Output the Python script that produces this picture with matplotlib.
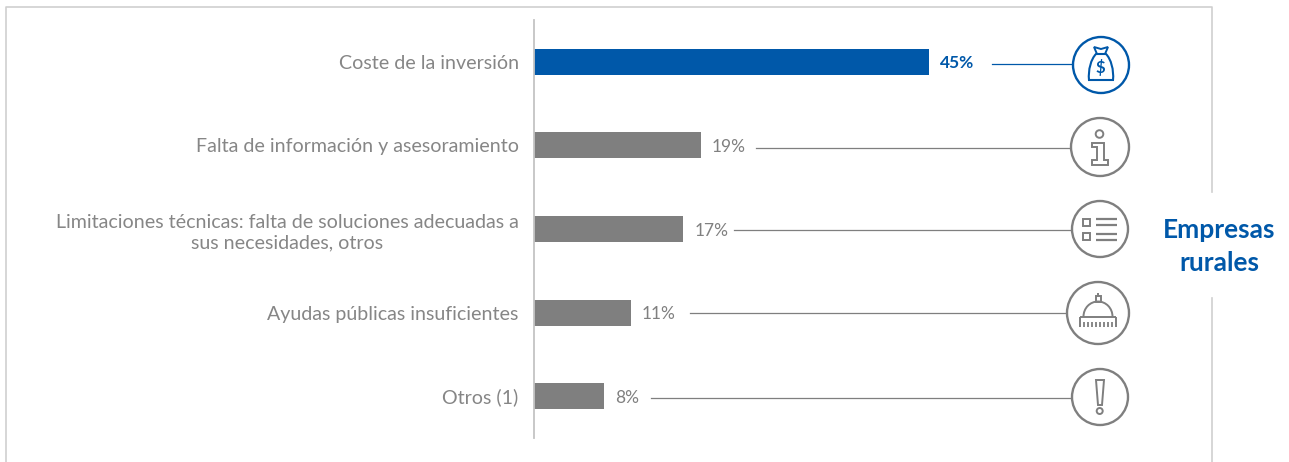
import numpy as np
import matplotlib.pyplot as plt
from matplotlib.patches import Circle, Polygon, Rectangle, Arc, PathPatch
from matplotlib.path import Path

W, H = 1289, 462
GREY = '#7f7f7f'
BLUE = '#0058a9'
BORDER = '#cfcfcf'

categories = ['Coste de la inversión',
              'Falta de información y asesoramiento',
              'Limitaciones técnicas: falta de soluciones adecuadas a\nsus necesidades, otros',
              'Ayudas públicas insuficientes',
              'Otros (1)']
values = [45, 19, 17, 11, 8]
bar_colors = [BLUE, GREY, GREY, GREY, GREY]
label_colors = [BLUE, '#808080', '#808080', '#808080', '#808080']
label_weights = ['bold', 'normal', 'normal', 'normal', 'normal']

# pixel helpers, for the frame and the icons
line_starts = [992, 756, 734, 690, 651]
line_ends = [1073, 1071, 1071, 1068, 1071]
line_ys = [64, 148, 230, 313, 398]
icon_x = [1101, 1100, 1100, 1098, 1100]
icon_y = [65, 147, 229, 313, 397]
icon_r = [28, 29, 28, 31, 28]

plt.rcParams['font.family'] = ['Lato', 'DejaVu Sans']

fig = plt.figure(figsize=(W / 100, H / 100), dpi=100, facecolor='white')

# overlay in pixel coordinates
ov = fig.add_axes([0, 0, 1, 1])
ov.set_xlim(0, W)
ov.set_ylim(H, 0)
ov.axis('off')

# frame
ov.plot([6, 6, 1212, 1212], [462, 7, 7, 192], color=BORDER, lw=1.2)
ov.plot([1212, 1212], [298, 462], color=BORDER, lw=1.2)

# bars
ax = fig.add_axes([534 / W, 1 - 438 / H, 395 / W, 418 / H])
ax.patch.set_alpha(0)
y = np.arange(len(values))
bars = ax.barh(y, values, height=0.31, color=bar_colors)
ax.set_xlim(0, 45)
ax.set_ylim(4.5, -0.5)
ax.set_xticks([])
ax.set_yticks(y)
ax.set_yticklabels(categories, fontsize=14.15, color='#868686', multialignment='center', linespacing=1.3)
ax.tick_params(axis='y', length=0, pad=11)
for s in ['top', 'right', 'bottom']:
    ax.spines[s].set_visible(False)
ax.spines['left'].set_color('#c4c4c4')
ax.spines['left'].set_linewidth(1.3)

for b, v, c, w in zip(bars, values, label_colors, label_weights):
    ax.annotate(str(v) + '%', (v, b.get_y() + b.get_height() / 2), xytext=(8, -1.2), textcoords='offset points',
                va='center', ha='left', fontsize=12.5, color=c, fontweight=w, annotation_clip=False)

# connector lines and circles
for i in range(5):
    c = BLUE if i == 0 else GREY
    ov.plot([line_starts[i], line_ends[i]], [line_ys[i], line_ys[i]], color=c, lw=0.9)
    ov.add_patch(Circle((icon_x[i], icon_y[i]), icon_r[i], fc='white', ec=c, lw=1.7, zorder=3))


def poly(cx, cy, pts, c, lw=1.4, fc='none'):
    pts = [(cx + p[0], cy + p[1]) for p in pts]
    ov.add_patch(Polygon(pts, closed=True, fc=fc, ec=c, lw=lw, zorder=4, joinstyle='miter'))


def seg(cx, cy, x0, y0, x1, y1, c, lw=1.4):
    ov.plot([cx + x0, cx + x1], [cy + y0, cy + y1], color=c, lw=lw, zorder=4, solid_capstyle='butt')


# money bag
cx, cy = icon_x[0], icon_y[0]
codes = [Path.MOVETO, Path.CURVE4, Path.CURVE4, Path.CURVE4, Path.LINETO, Path.CURVE4, Path.CURVE4, Path.CURVE4, Path.CLOSEPOLY]
verts = [(-5, -11), (-10, -6), (-13, 5), (-12, 15), (12, 15), (13, 5), (10, -6), (5, -11), (-5, -11)]
verts = [(cx + a, cy + b) for a, b in verts]
ov.add_patch(PathPatch(Path(verts, codes), fc='none', ec=BLUE, lw=1.5, zorder=4))
poly(cx, cy, [(-7, -18), (0, -16), (7, -18), (4, -11), (-4, -11)], BLUE, lw=1.4)
ov.text(cx - 0.5, cy + 3, '$', color=BLUE, fontsize=12, fontweight='bold', ha='center', va='center', zorder=5)

# info
cx, cy = icon_x[1], icon_y[1]
ov.add_patch(Circle((cx - 0.5, cy - 13), 3.8, fc='none', ec=GREY, lw=1.4, zorder=4))
poly(cx, cy, [(-8, -4), (4, -4), (4, 13), (8, 13), (8, 18), (-8, 18), (-8, 13), (-3, 13), (-3, 0), (-8, 0)], GREY)

# list
cx, cy = icon_x[2], icon_y[2]
for yy in [-7, 7]:
    ov.add_patch(Rectangle((cx - 17, cy + yy - 3), 6.5, 6.5, fc='none', ec=GREY, lw=1.4, zorder=4))
for yy in [-10, -4, 5, 11]:
    seg(cx, cy, -4.5, yy, 17, yy, GREY, lw=1.6)

# dome
cx, cy = icon_x[3], icon_y[3]
ov.add_patch(Arc((cx, cy + 3.5), 29, 30, theta1=180, theta2=360, ec=GREY, lw=1.4, zorder=4))
ov.add_patch(Rectangle((cx - 2.5, cy - 17), 5, 6, fc='none', ec=GREY, lw=1.4, zorder=4))
seg(cx, cy, 0, -20, 0, -17, GREY)
seg(cx, cy, -18, 3.5, 18, 3.5, GREY)
seg(cx, cy, -18, 3.5, -18, 14, GREY)
seg(cx, cy, 18, 3.5, 18, 14, GREY)
for xx in np.linspace(-14, 14, 8):
    seg(cx, cy, xx, 9, xx, 14, GREY, lw=1.3)

# exclamation mark
cx, cy = icon_x[4], icon_y[4]
poly(cx, cy, [(-4, -17), (4, -17), (2, 8), (-2, 8)], GREY)
ov.add_patch(Circle((cx - 0.3, cy + 14), 3, fc='none', ec=GREY, lw=1.4, zorder=4))

# side title
ov.text(1219, 229.5, 'Empresas', color=BLUE, fontsize=19, fontweight='bold', ha='center', va='center')
ov.text(1219, 263, 'rurales', color=BLUE, fontsize=19, fontweight='bold', ha='center', va='center')

fig.savefig('out.png', dpi=100, facecolor='white')
